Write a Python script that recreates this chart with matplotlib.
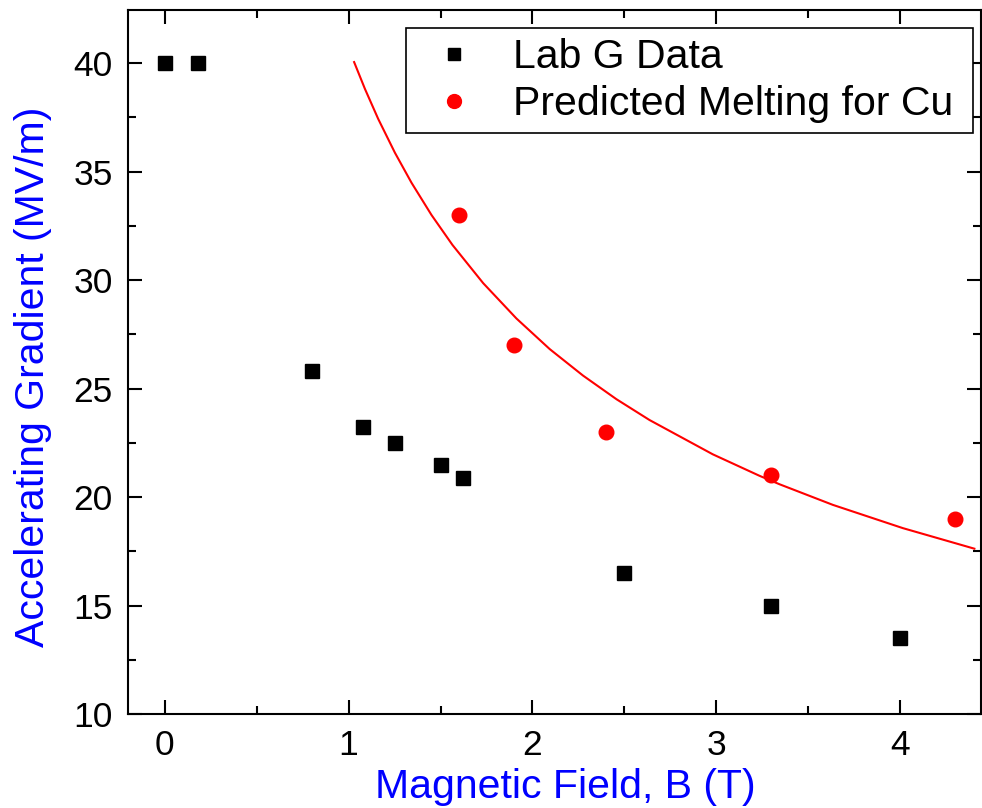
import matplotlib
matplotlib.use("Agg")
import matplotlib.pyplot as plt
from matplotlib.ticker import MultipleLocator

plt.rcParams['font.family'] = ['Liberation Sans', 'DejaVu Sans']

# Lab G measured data
lab_B = [0.0, 0.18, 0.80, 1.08, 1.25, 1.50, 1.62, 2.50, 3.30, 4.00]
lab_E = [40.0, 40.0, 25.8, 23.25, 22.5, 21.5, 20.9, 16.5, 15.0, 13.5]

# Predicted melting points for Cu
cu_B = [1.60, 1.90, 2.40, 3.30, 4.30]
cu_E = [33.0, 27.0, 23.0, 21.0, 19.0]

# Red curve
curve_B = [1.030, 1.089, 1.161, 1.252, 1.342, 1.451, 1.565, 1.732, 1.913,
           2.094, 2.275, 2.457, 2.637, 2.981, 3.235, 3.344, 3.634, 4.014, 4.404]
curve_E = [40.05, 38.81, 37.43, 35.87, 34.49, 33.0, 31.62, 29.86, 28.23,
           26.82, 25.6, 24.51, 23.55, 21.97, 20.98, 20.59, 19.64, 18.57, 17.62]

xticks = [0, 1, 2, 3, 4]
yticks = [10, 15, 20, 25, 30, 35, 40]

W, H = 982, 808
fig = plt.figure(figsize=(W / 100, H / 100), dpi=100)
ax = fig.add_axes([128 / W, 1 - 714 / H, (981 - 128) / W, (714 - 10) / H])

ax.plot(curve_B, curve_E, color='#FF0000', lw=1.5, zorder=2)
ax.plot(lab_B, lab_E, ls='none', marker='s', ms=9.5, color='black',
        label='Lab G Data', zorder=3)
ax.plot(cu_B, cu_E, ls='none', marker='o', ms=10.5, color='#FF0000',
        label='Predicted Melting for Cu', zorder=3)

ax.set_xlim(-0.2, 4.44)
ax.set_ylim(10, 42.45)
ax.set_xticks(xticks)
ax.set_yticks(yticks)
ax.xaxis.set_minor_locator(MultipleLocator(0.5))
ax.yaxis.set_minor_locator(MultipleLocator(2.5))
ax.tick_params(which='both', direction='in', top=True, right=True, width=1.5,
               labelsize=25.5, pad=11)
ax.tick_params(which='major', length=10)
ax.tick_params(which='minor', length=6)
for s in ax.spines.values():
    s.set_linewidth(1.5)

fig.text(565 / W, 1 - 798 / H, 'Magnetic Field, B (T)', color='#0000FF',
         fontsize=29.5, ha='center', va='baseline')
fig.text(33 / W, 1 - 376.5 / H, 'Accelerating Gradient (MV/m)', color='#0000FF',
         fontsize=29.5, ha='center', va='center', rotation=90)

leg = ax.legend(loc='upper left',
                bbox_to_anchor=(406 / W, 1 - 132.3 / H, (973 - 406) / W, (132.3 - 27.7) / H),
                bbox_transform=fig.transFigure, mode='expand', borderaxespad=0,
                fontsize=29.5, frameon=True, fancybox=False, edgecolor='black',
                borderpad=0.25, labelspacing=0.22, handlelength=1.84,
                handletextpad=0.52, numpoints=1, markerscale=0.95)
leg.get_frame().set_linewidth(1.2)
leg.get_frame().set_alpha(None)

fig.savefig('out.png', dpi=100)
